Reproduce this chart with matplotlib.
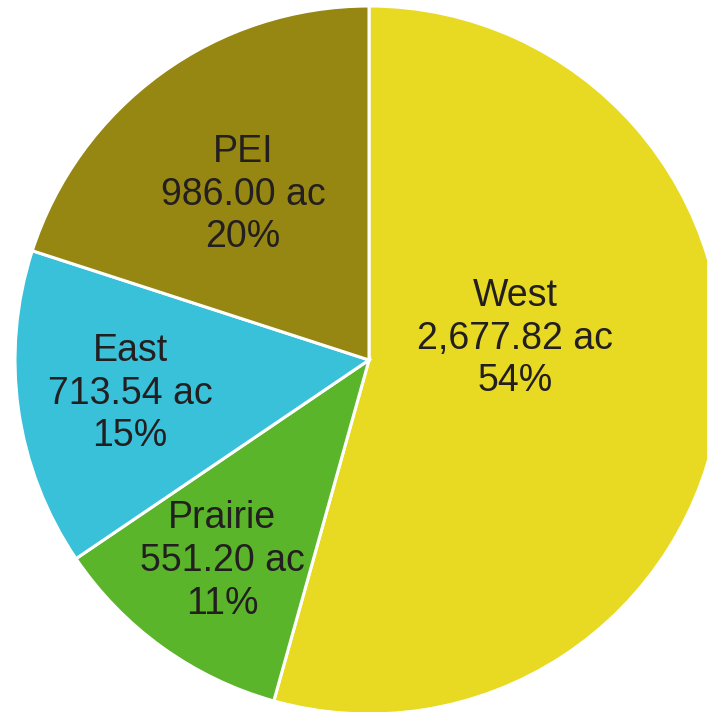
import matplotlib
matplotlib.use("Agg")
import matplotlib.pyplot as plt

regions = ["West", "Prairie", "East", "PEI"]
acres = [2677.82, 551.20, 713.54, 986.00]
percents = [54, 11, 15, 20]
colors = ["#E8DA22", "#5AB52B", "#38C1D9", "#968612"]
# label centre positions (axes data units, pie radius = 1)
label_pos = [(0.412, 0.060), (-0.415, -0.568), (-0.675, -0.095), (-0.356, 0.467)]

plt.rcParams["font.family"] = ["Liberation Sans", "DejaVu Sans"]

fig = plt.figure(figsize=(7.07, 7.12), dpi=100)
ax = fig.add_axes([0, 0, 1, 1])
ax.pie(acres, colors=colors, startangle=90, counterclock=False,
       radius=1.0, center=(0, 0),
       wedgeprops=dict(edgecolor="white", linewidth=2.2))
for name, val, pct, (x, y) in zip(regions, acres, percents, label_pos):
    ax.text(x, y, f"{name}\n{val:,.2f} ac\n{pct}%", ha="center", va="center",
            fontsize=27, color="#231F20", linespacing=1.24)

cx, cy, r = 369, 360, 354
ax.set_xlim(-cx / r, (707 - cx) / r)
ax.set_ylim(-(712 - cy) / r, cy / r)
ax.set_aspect("auto")
ax.axis("off")
fig.savefig("out.png", dpi=100)
